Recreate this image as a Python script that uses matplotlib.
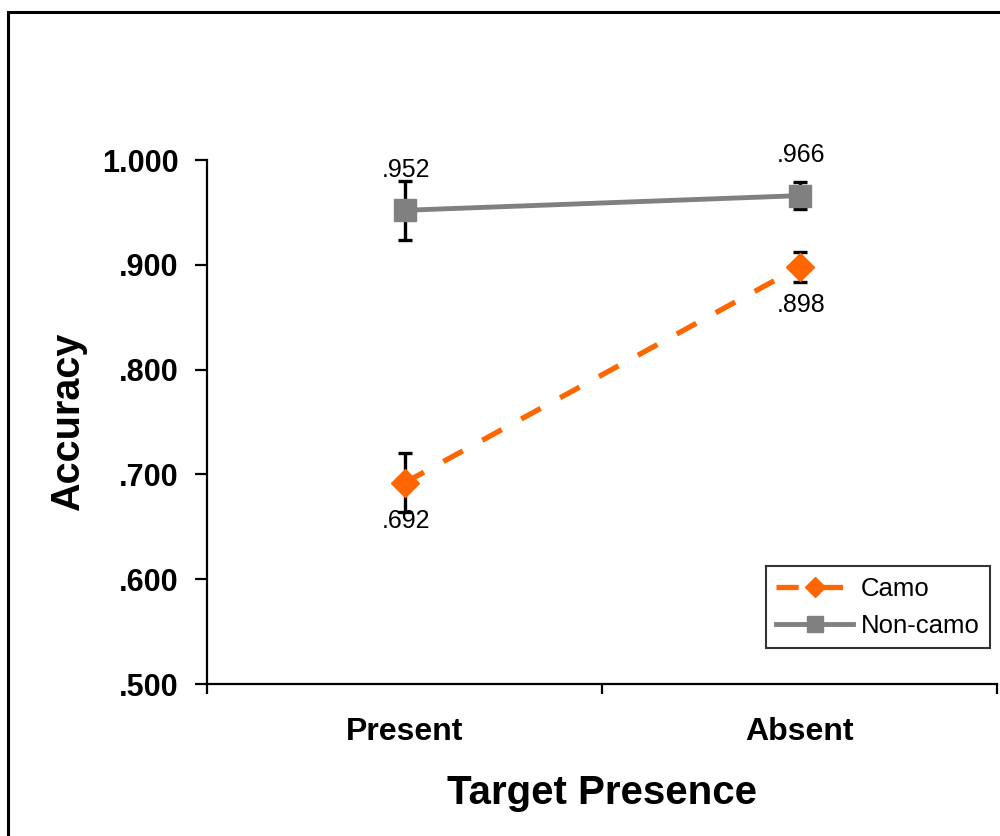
import matplotlib
matplotlib.use("Agg")
import matplotlib.pyplot as plt
from matplotlib.patches import Rectangle

plt.rcParams['font.family'] = ['Liberation Sans', 'DejaVu Sans']

categories = ["Present", "Absent"]
camo = [0.692, 0.898]
camo_err = [0.028, 0.014]
noncamo = [0.952, 0.966]
noncamo_err = [0.028, 0.013]
camo_labels = [".692", ".898"]
noncamo_labels = [".952", ".966"]
yticks = [0.5, 0.6, 0.7, 0.8, 0.9, 1.0]
ytick_labels = [".500", ".600", ".700", ".800", ".900", "1.000"]

ORANGE = "#FF6600"
GRAY = "#808080"

fig = plt.figure(figsize=(10, 8.36), dpi=100)
ax = fig.add_axes([0.207, 0.1818, 0.790, 0.6268])

xpos = [0.5, 1.5]

# error bars underneath the markers
ax.errorbar(xpos, noncamo, yerr=noncamo_err, fmt='none', ecolor='black',
            elinewidth=2.4, capsize=5, capthick=2.4, zorder=2, clip_on=False)
ax.errorbar(xpos, camo, yerr=camo_err, fmt='none', ecolor='black',
            elinewidth=2.4, capsize=5, capthick=2.4, zorder=2, clip_on=False)

ax.plot(xpos, camo, color=ORANGE, lw=3.8, linestyle=(0, (4.2, 4.2)),
        marker='D', markersize=14, markeredgecolor=ORANGE, label="Camo",
        zorder=3, clip_on=False)
ax.plot(xpos, noncamo, color=GRAY, lw=3.5, marker='s', markersize=16,
        markeredgecolor=GRAY, label="Non-camo", zorder=3, clip_on=False)

for x, v, t in zip(xpos, noncamo, noncamo_labels):
    ax.annotate(t, (x, v), xytext=(1, 24), textcoords='offset points',
                ha='center', va='baseline', fontsize=18)
for x, v, t in zip(xpos, camo, camo_labels):
    ax.annotate(t, (x, v), xytext=(1, -19), textcoords='offset points',
                ha='center', va='top', fontsize=18)

ax.set_xlim(0, 2)
ax.set_ylim(0.5, 1.0)
ax.set_xticks([0, 1, 2])
ax.set_xticklabels([])
ax.set_xticks(xpos, minor=True)
ax.set_xticklabels(categories, minor=True, fontsize=23, fontweight='bold')
ax.tick_params(axis='x', which='minor', length=0, pad=24)
ax.tick_params(axis='x', which='major', direction='out', length=7, width=1.6)
ax.set_yticks(yticks)
ax.set_yticklabels(ytick_labels, fontsize=22, fontweight='bold')
ax.tick_params(axis='y', direction='out', length=8.5, width=1.6, pad=12)

for s in ['top', 'right']:
    ax.spines[s].set_visible(False)
for s in ['left', 'bottom']:
    ax.spines[s].set_linewidth(1.6)

ax.set_xlabel("Target Presence", fontsize=29, fontweight='bold')
ax.xaxis.set_label_coords(0.5, -0.172)
ax.set_ylabel("Accuracy", fontsize=28.5, fontweight='bold')
ax.yaxis.set_label_coords(-0.152, 0.5)

leg = ax.legend(loc='lower right', bbox_to_anchor=(0.99, 0.225),
                bbox_transform=fig.transFigure, borderaxespad=0,
                fontsize=18.5, numpoints=1, handlelength=3.0, fancybox=False,
                frameon=True, borderpad=0.4, labelspacing=0.5, handletextpad=0.3,
                markerscale=0.7)
leg.get_frame().set_edgecolor('black')
leg.get_frame().set_linewidth(1.5)

# outer chart border
fig.patches.append(Rectangle((0.008, -0.1), 1.2, 1.0856, transform=fig.transFigure,
                             fill=False, edgecolor='black', lw=2.2))

fig.savefig("out.png", dpi=100)
